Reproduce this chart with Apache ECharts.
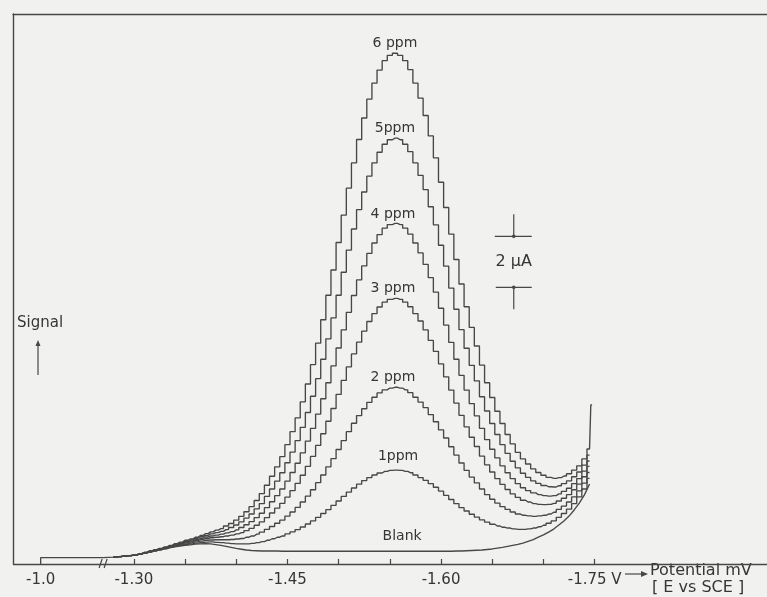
<!DOCTYPE html>
<html><head><meta charset="utf-8">
<script src="https://cdn.jsdelivr.net/npm/echarts@6/dist/echarts.min.js"></script>
<style>html,body{margin:0;padding:0;background:#f1f1f0;} #c{width:767px;height:597px;}</style>
</head><body><div id="c"></div>
<script>
// Potential (magnitude, V vs SCE) sampling grid for the staircase curves
const potential = [1.280,1.285,1.290,1.295,1.300,1.305,1.310,1.315,1.320,1.325,1.330,1.335,1.340,1.345,1.350,1.355,1.360,1.365,1.370,1.375,1.380,1.385,1.390,1.395,1.400,1.405,1.410,1.415,1.420,1.425,1.430,1.435,1.440,1.445,1.450,1.455,1.460,1.465,1.470,1.475,1.480,1.485,1.490,1.495,1.500,1.505,1.510,1.515,1.520,1.525,1.530,1.535,1.540,1.545,1.550,1.555,1.560,1.565,1.570,1.575,1.580,1.585,1.590,1.595,1.600,1.605,1.610,1.615,1.620,1.625,1.630,1.635,1.640,1.645,1.650,1.655,1.660,1.665,1.670,1.675,1.680,1.685,1.690,1.695,1.700,1.705,1.710,1.715,1.720,1.725,1.730,1.735,1.740,1.745];

// Signal in µA
const blankLeadPotential = [1.0, 1.0, 1.27];
const blankLeadSignal = [0, 0.25, 0.25];
const blank = [0.27,0.29,0.31,0.33,0.35,0.39,0.43,0.47,0.51,0.55,
0.59,0.63,0.67,0.70,0.73,0.75,0.78,0.79,0.80,0.79,
0.76,0.73,0.69,0.65,0.61,0.58,0.55,0.53,0.52,0.51,
0.51,0.51,0.51,0.50,0.50,0.50,0.50,0.50,0.50,0.50,
0.50,0.50,0.50,0.50,0.50,0.50,0.50,0.50,0.50,0.50,
0.50,0.50,0.50,0.50,0.50,0.50,0.50,0.50,0.50,0.50,
0.50,0.50,0.50,0.50,0.50,0.50,0.50,0.51,0.51,0.52,
0.53,0.54,0.55,0.57,0.59,0.62,0.65,0.69,0.73,0.77,
0.82,0.89,0.96,1.05,1.14,1.25,1.37,1.53,1.69,1.88,
2.12,2.39,2.71,3.14];
const ppm1 = [0.27,0.29,0.31,0.33,0.35,0.39,0.43,0.47,0.52,0.56,
0.60,0.65,0.69,0.73,0.76,0.79,0.82,0.84,0.86,0.87,
0.85,0.84,0.82,0.80,0.79,0.79,0.79,0.81,0.84,0.88,
0.93,0.99,1.05,1.10,1.18,1.26,1.35,1.45,1.57,1.69,
1.83,1.98,2.13,2.30,2.47,2.65,2.82,2.98,3.13,3.27,
3.39,3.49,3.57,3.63,3.67,3.68,3.67,3.63,3.58,3.49,
3.39,3.28,3.15,3.01,2.86,2.69,2.53,2.37,2.21,2.08,
1.95,1.84,1.73,1.64,1.56,1.49,1.44,1.41,1.38,1.36,
1.36,1.38,1.41,1.46,1.52,1.60,1.69,1.83,1.98,2.15,
2.37,2.63,2.94,3.36];
const ppm2 = [0.27,0.29,0.31,0.33,0.35,0.39,0.43,0.48,0.53,0.57,
0.62,0.66,0.71,0.75,0.79,0.83,0.87,0.90,0.93,0.94,
0.95,0.95,0.95,0.96,0.98,1.00,1.05,1.10,1.17,1.25,
1.36,1.47,1.60,1.72,1.88,2.04,2.22,2.43,2.66,2.91,
3.19,3.49,3.81,4.13,4.49,4.84,5.19,5.52,5.82,6.09,
6.34,6.54,6.71,6.83,6.90,6.93,6.90,6.83,6.72,6.54,
6.35,6.13,5.86,5.58,5.26,4.94,4.60,4.27,3.96,3.67,
3.41,3.18,2.94,2.72,2.54,2.39,2.25,2.14,2.04,1.96,
1.91,1.89,1.87,1.89,1.91,1.96,2.03,2.14,2.27,2.43,
2.63,2.87,3.17,3.59];
const ppm3 = [0.27,0.29,0.31,0.33,0.35,0.39,0.44,0.49,0.53,0.58,
0.63,0.68,0.73,0.78,0.83,0.87,0.92,0.96,1.00,1.03,
1.05,1.07,1.10,1.13,1.18,1.23,1.31,1.40,1.52,1.65,
1.82,2.00,2.19,2.38,2.62,2.88,3.16,3.48,3.83,4.22,
4.65,5.11,5.60,6.10,6.65,7.20,7.73,8.24,8.70,9.13,
9.51,9.82,10.08,10.27,10.38,10.42,10.38,10.27,10.09,9.82,
9.53,9.18,8.77,8.34,7.85,7.34,6.82,6.31,5.83,5.38,
4.97,4.61,4.23,3.89,3.61,3.35,3.12,2.92,2.75,2.61,
2.50,2.43,2.37,2.34,2.33,2.34,2.38,2.47,2.58,2.72,
2.91,3.13,3.42,3.83];
const ppm4 = [0.27,0.29,0.31,0.33,0.35,0.39,0.44,0.50,0.54,0.59,
0.64,0.69,0.75,0.80,0.86,0.90,0.96,1.01,1.06,1.10,
1.13,1.17,1.22,1.27,1.34,1.43,1.54,1.66,1.82,1.99,
2.21,2.44,2.68,2.94,3.25,3.59,3.95,4.36,4.82,5.32,
5.88,6.48,7.11,7.77,8.47,9.18,9.87,10.53,11.14,11.69,
12.18,12.59,12.92,13.17,13.31,13.36,13.31,13.17,12.94,12.59,
12.20,11.75,11.23,10.66,10.03,9.37,8.69,8.03,7.40,6.82,
6.29,5.81,5.32,4.88,4.50,4.16,3.85,3.58,3.35,3.15,
2.99,2.88,2.79,2.72,2.68,2.66,2.68,2.75,2.85,2.97,
3.15,3.35,3.64,4.04];
const ppm5 = [0.27,0.29,0.31,0.33,0.35,0.39,0.45,0.50,0.55,0.60,
0.65,0.71,0.78,0.83,0.89,0.94,1.01,1.07,1.12,1.18,
1.23,1.28,1.35,1.43,1.53,1.65,1.80,1.96,2.16,2.37,
2.65,2.94,3.25,3.58,3.97,4.39,4.84,5.36,5.94,6.58,
7.27,8.03,8.83,9.65,10.54,11.44,12.31,13.14,13.90,14.59,
15.21,15.73,16.15,16.46,16.64,16.70,16.64,16.46,16.17,15.73,
15.24,14.68,14.01,13.30,12.50,11.68,10.82,9.99,9.19,8.46,
7.79,7.18,6.56,6.00,5.51,5.08,4.68,4.34,4.03,3.77,
3.56,3.40,3.26,3.16,3.08,3.03,3.02,3.07,3.15,3.26,
3.42,3.61,3.88,4.27];
const ppm6 = [0.27,0.29,0.31,0.33,0.35,0.39,0.45,0.51,0.56,0.61,
0.67,0.73,0.80,0.86,0.93,0.98,1.05,1.12,1.19,1.26,
1.33,1.39,1.49,1.59,1.72,1.87,2.05,2.25,2.49,2.76,
3.09,3.44,3.81,4.21,4.68,5.19,5.73,6.36,7.06,7.82,
8.66,9.58,10.54,11.53,12.61,13.68,14.74,15.73,16.65,17.49,
18.23,18.86,19.37,19.74,19.95,20.03,19.95,19.74,19.39,18.86,
18.27,17.59,16.79,15.93,14.97,13.98,12.94,11.94,10.98,10.09,
9.28,8.55,7.80,7.11,6.53,5.99,5.51,5.08,4.71,4.38,
4.12,3.92,3.73,3.59,3.48,3.40,3.36,3.39,3.45,3.54,
3.68,3.85,4.12,4.51];
const ppm6PenEnd = [1.7475, 6.24];

const curveNames = ['6 ppm','5ppm','4 ppm','3 ppm','2 ppm','1ppm'];
const curveValues = [ppm6, ppm5, ppm4, ppm3, ppm2, ppm1];
const labelPotential = [1.555, 1.555, 1.553, 1.553, 1.553, 1.558];
const labelGap = [3, 3, 2, 3, 3, 7];
const blankName = 'Blank';
const blankLabelPotential = 1.562;

const tickValues = [1.30,1.35,1.40,1.45,1.50,1.55,1.60,1.65,1.70,1.75];
const labelValues = [1.0, 1.30, 1.45, 1.60, 1.75];
const X_MIN = 0.973, X_MAX = 1.9183, BREAK_START = 1.061, BREAK_END = 1.27;
const Y_MAX = 21.57;
const scaleBar = {potential: 1.671, low: 10.85, high: 12.85, text: '2 \u00b5A'};

const LINE = '#474747', TXT = '#363636', FONT = 'DejaVu Sans';

const chart = echarts.init(document.getElementById('c'), null, {renderer: 'canvas'});

function pairs(xs, ys){ return xs.map((x,i)=>[x, ys[i]]); }

const series = curveValues.map((vals, i) => {
  const data = pairs(potential, vals);
  if (i === 0) data.push(ppm6PenEnd);
  const peak = Math.max.apply(null, vals);
  return {
    type: 'line', name: curveNames[i], data, step: 'middle', showSymbol: false,
    lineStyle: {color: LINE, width: 1.35}, animation: false, silent: true, z: 3,
    markPoint: {
      symbol: 'circle', symbolSize: 0, animation: false,
      data: [{coord: [labelPotential[i], peak]}],
      label: {show: true, position: 'top', distance: labelGap[i], formatter: curveNames[i],
        color: TXT, fontFamily: FONT, fontSize: 14}
    }
  };
});
series.push({
  type: 'line', name: blankName,
  data: pairs(blankLeadPotential, blankLeadSignal).concat(pairs(potential, blank)),
  showSymbol: false, lineStyle: {color: LINE, width: 1.35}, animation: false, silent: true, z: 3,
  markPoint: {
    symbol: 'circle', symbolSize: 0, animation: false,
    data: [{coord: [blankLabelPotential, 0.50]}],
    label: {show: true, position: 'top', distance: 8, formatter: blankName,
      color: TXT, fontFamily: FONT, fontSize: 14}
  }
});

chart.setOption({
  backgroundColor: '#f1f1f0',
  animation: false,
  grid: {left: 13, right: 0, top: 14, bottom: 33},
  xAxis: [{
    type: 'value', min: X_MIN, max: X_MAX,
    breaks: [{start: BREAK_START, end: BREAK_END, gap: 0}],
    breakArea: {show: false, itemStyle: {opacity: 0, borderWidth: 0}},
    axisLine: {show: true, onZero: false, lineStyle: {color: LINE, width: 1.4}},
    axisTick: {show: true, inside: true, length: 5, customValues: tickValues, lineStyle: {color: LINE, width: 1.2}},
    axisLabel: {show: true, customValues: labelValues, margin: 9, color: TXT, fontFamily: FONT, fontSize: 15,
      formatter: v => v < 1.1 ? '-1.0' : (Math.abs(v - 1.75) < 1e-6 ? '-1.75 V' : '-' + v.toFixed(2))},
    splitLine: {show: false}
  }, {
    type: 'value', position: 'top', min: X_MIN, max: X_MAX,
    axisLine: {show: true, onZero: false, lineStyle: {color: LINE, width: 1.4}},
    axisTick: {show: false}, axisLabel: {show: false}, splitLine: {show: false}
  }],
  yAxis: {
    type: 'value', min: 0, max: Y_MAX,
    axisLine: {show: true, onZero: false, lineStyle: {color: LINE, width: 1.4}},
    axisTick: {show: false}, axisLabel: {show: false}, splitLine: {show: false}
  },
  series
});

function px(v, s){ return chart.convertToPixel({xAxisIndex: 0, yAxisIndex: 0}, [v, s]); }
const T = px(scaleBar.potential, scaleBar.high);
const B = px(scaleBar.potential, scaleBar.low);
const brk = px(BREAK_START, 0);
const ls = {stroke: LINE, lineWidth: 1.2};
const g = [];
// scale bar
g.push({type:'line', shape:{x1:T[0]-19, y1:T[1], x2:T[0]+18, y2:T[1]}, style:ls});
g.push({type:'line', shape:{x1:T[0], y1:T[1]-22, x2:T[0], y2:T[1]}, style:ls});
g.push({type:'circle', shape:{cx:T[0], cy:T[1], r:1.8}, style:{fill:LINE}});
g.push({type:'line', shape:{x1:B[0]-18, y1:B[1], x2:B[0]+18, y2:B[1]}, style:ls});
g.push({type:'line', shape:{x1:B[0], y1:B[1], x2:B[0], y2:B[1]+22}, style:ls});
g.push({type:'circle', shape:{cx:B[0], cy:B[1], r:1.8}, style:{fill:LINE}});
g.push({type:'text', x:T[0], y:(T[1]+B[1])/2, style:{text:scaleBar.text, fill:TXT, font:'16px "DejaVu Sans"', align:'center', verticalAlign:'middle'}});
// axis break mark
g.push({type:'line', shape:{x1:brk[0]-4, y1:brk[1]+4, x2:brk[0]-1, y2:brk[1]-5}, style:ls});
g.push({type:'line', shape:{x1:brk[0]+1, y1:brk[1]+4, x2:brk[0]+4, y2:brk[1]-5}, style:ls});
// Signal label with arrow
g.push({type:'text', x:17, y:323, style:{text:'Signal', fill:TXT, font:'15px "DejaVu Sans"', align:'left', verticalAlign:'middle'}});
g.push({type:'line', shape:{x1:38, y1:343, x2:38, y2:375}, style:ls});
g.push({type:'polygon', shape:{points:[[38,340],[35.5,346],[40.5,346]]}, style:{fill:LINE}});
// axis title
g.push({type:'line', shape:{x1:625, y1:574, x2:642, y2:574}, style:ls});
g.push({type:'polygon', shape:{points:[[648,574],[641,571],[641,577]]}, style:{fill:LINE}});
g.push({type:'text', x:650, y:571, style:{text:'Potential mV', fill:TXT, font:'16px "DejaVu Sans"', align:'left', verticalAlign:'middle'}});
g.push({type:'text', x:652, y:588, style:{text:'[ E vs SCE ]', fill:TXT, font:'16px "DejaVu Sans"', align:'left', verticalAlign:'middle'}});
chart.setOption({graphic: {elements: g}});
</script>
</body></html>
